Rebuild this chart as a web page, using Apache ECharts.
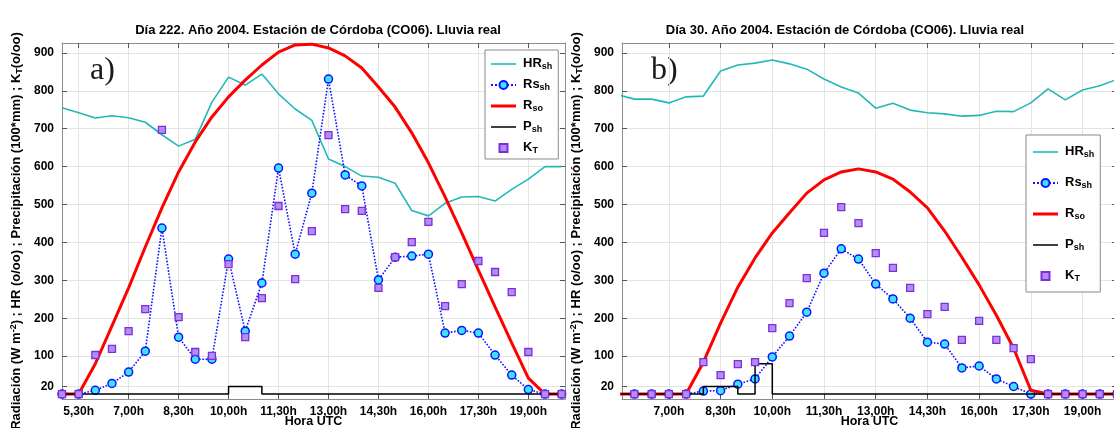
<!DOCTYPE html>
<html>
<head>
<meta charset="utf-8">
<script src="https://cdn.jsdelivr.net/npm/echarts@6/dist/echarts.min.js"></script>
<style>
  html, body { margin: 0; padding: 0; background: #fff; }
  #chart { width: 1114px; height: 428px; }
</style>
</head>
<body>
<div id="chart"></div>
<script>
// horas UTC de los registros semihorarios
const horasA = [5, 5.5, 6, 6.5, 7, 7.5, 8, 8.5, 9, 9.5, 10, 10.5, 11, 11.5, 12, 12.5,
  13, 13.5, 14, 14.5, 15, 15.5, 16, 16.5, 17, 17.5, 18, 18.5, 19, 19.5, 20];
const horasB = [5.5, 6, 6.5, 7, 7.5, 8, 8.5, 9, 9.5, 10, 10.5, 11, 11.5, 12, 12.5,
  13, 13.5, 14, 14.5, 15, 15.5, 16, 16.5, 17, 17.5, 18, 18.5, 19, 19.5, 20];
const tickHoras = [5.5, 7, 8.5, 10, 11.5, 13, 14.5, 16, 17.5, 19];
const tickValores = [20, 100, 200, 300, 400, 500, 600, 700, 800, 900];

// Día 222
const hrA = [755, 742, 728, 734, 729, 717, 684, 654, 672, 770, 836, 815, 844, 792, 752, 722,
  620, 600, 575, 572, 556, 484, 470, 503, 520, 521, 509, 540, 567, 600, 600];
const rsA = [0, 0, 10, 28, 58, 113, 438, 150, 92, 92, 356, 166, 293, 596, 369, 530,
  831, 578, 549, 301, 361, 364, 369, 161, 168, 161, 103, 50, 12, 0, 0];
const rsoA = [0, 0, 80, 180, 280, 388, 491, 586, 665, 731, 784, 828, 868, 902, 921, 923,
  913, 892, 860, 810, 757, 689, 610, 520, 425, 327, 230, 135, 42, 0, 0];
const pA = [0, 0, 0, 0, 0, 0, 0, 0, 0, 0, 20, 20, 0, 0, 0, 0,
  0, 0, 0, 0, 0, 0, 0, 0, 0, 0, 0, 0, 0, 0, 0];
const ktA = [0, 0, 103, 119, 166, 224, 697, 203, 111, 101, 343, 150, 253, 496, 303, 430,
  683, 488, 483, 280, 361, 401, 454, 232, 290, 351, 322, 269, 111, 0, 0];

// Día 30
const hrB = [790, 778, 778, 768, 784, 786, 852, 868, 873, 881, 871, 857, 831, 810, 794,
  754, 767, 749, 742, 739, 733, 735, 746, 745, 768, 805, 776, 802, 813, 830];
const rsB = [0, 0, 0, 0, 0, 8, 9, 26, 40, 98, 153, 216, 319, 383, 356,
  290, 251, 200, 137, 132, 69, 74, 40, 20, 0, 0, 0, 0, 0, 0];
const rsoB = [0, 0, 0, 0, 0, 84, 187, 282, 359, 425, 478, 530, 565, 586, 594,
  586, 567, 533, 491, 430, 361, 288, 208, 121, 10, 0, 0, 0, 0, 0];
const pB = [0, 0, 0, 0, 0, 20, 20, 0, 80, 0, 0, 0, 0, 0, 0,
  0, 0, 0, 0, 0, 0, 0, 0, 0, 0, 0, 0, 0, 0, 0];
const ktB = [0, 0, 0, 0, 0, 84, 50, 79, 84, 174, 240, 306, 425, 493, 451,
  372, 333, 280, 211, 230, 143, 193, 143, 121, 92, 0, 0, 0, 0, 0];

const FONT = '"Liberation Sans", Arial, sans-serif';
const etiquetas = {
  HR_sh: '{m|HR}{s|sh}',
  Rs_sh: '{m|Rs}{s|sh}',
  R_so: '{m|R}{s|so}',
  P_sh: '{m|P}{s|sh}',
  K_T: '{m|K}{s|T}'
};
// las series sin marcador llevan en la leyenda solo un trazo
const itemsLeyenda = [
  { name: 'HR_sh', icon: 'path://M0,0H25V1.6H0Z' },
  { name: 'Rs_sh' },
  { name: 'R_so', icon: 'path://M0,0H25V3H0Z' },
  { name: 'P_sh', icon: 'path://M0,0H25V1.5H0Z' },
  { name: 'K_T' }
];
const richLeyenda = {
  m: { fontSize: 13, fontWeight: 'bold', fontFamily: FONT, color: '#000', lineHeight: 14, verticalAlign: 'top' },
  s: { fontSize: 9, fontWeight: 'bold', fontFamily: FONT, color: '#000', lineHeight: 10, padding: [7, 0, 0, 0], verticalAlign: 'bottom' }
};
const nombreY = '{n|Radiación (W m}{p|-2}{n|) ; HR (o/oo) ; Precipitación (100*mm) ; K}{b|T}{n|(o/oo)}';
const richY = {
  n: { fontSize: 13, fontWeight: 'bold', fontFamily: FONT, color: '#000', lineHeight: 15, verticalAlign: 'middle' },
  p: { fontSize: 9, fontWeight: 'bold', fontFamily: FONT, color: '#000', lineHeight: 9, verticalAlign: 'top' },
  b: { fontSize: 9, fontWeight: 'bold', fontFamily: FONT, color: '#000', lineHeight: 9, padding: [7, 0, 0, 0], verticalAlign: 'bottom' }
};

const fmtHora = v => {
  const h = Math.floor(v);
  const m = Math.round((v - h) * 60);
  return h + ',' + (m < 10 ? '0' + m : m) + 'h';
};
const pares = (hs, vs) => hs.map((h, i) => [h, vs[i]]);

function ejeX(grid, min, max, abajo) {
  return {
    type: 'value', gridIndex: grid, min: min, max: max,
    position: abajo ? 'bottom' : 'top',
    axisLine: { show: true, onZero: false, lineStyle: { color: '#8c8c8c', width: 1 } },
    axisTick: { show: true, inside: true, length: 5, customValues: tickHoras, lineStyle: { color: '#555' } },
    axisLabel: abajo ? {
      customValues: tickHoras, formatter: fmtHora, margin: 7,
      color: '#000', fontSize: 12, fontWeight: 'bold', fontFamily: FONT
    } : { show: false },
    splitLine: { show: abajo, lineStyle: { color: '#e4e4e4', width: 1 } },
    name: abajo ? 'Hora UTC' : '', nameLocation: 'middle', nameGap: 16, nameMoveOverlap: false,
    nameTextStyle: { color: '#000', fontSize: 12.5, fontWeight: 'bold', fontFamily: FONT, verticalAlign: 'top' }
  };
}
function ejeY(grid, izq) {
  return {
    type: 'value', gridIndex: grid, min: -13, max: 926,
    position: izq ? 'left' : 'right',
    axisLine: { show: true, onZero: false, lineStyle: { color: '#8c8c8c', width: 1 } },
    axisTick: { show: true, inside: true, length: 5, customValues: tickValores, lineStyle: { color: '#555' } },
    axisLabel: izq ? {
      customValues: tickValores, margin: 8,
      color: '#000', fontSize: 12, fontWeight: 'bold', fontFamily: FONT
    } : { show: false },
    splitLine: { show: izq, lineStyle: { color: '#e4e4e4', width: 1 } },
    name: izq ? nombreY : '', nameLocation: 'middle', nameGap: 38, nameMoveOverlap: false,
    nameTextStyle: { rich: richY, padding: [0, 20, 0, 0] }
  };
}

function panel(ix, horas, hr, rs, rso, p, kt) {
  const base = { type: 'line', xAxisIndex: ix, yAxisIndex: ix, clip: true, animation: false };
  return [
    Object.assign({}, base, {
      name: 'HR_sh', data: pares(horas, hr), symbol: 'none', z: 2,
      lineStyle: { color: '#22b8b8', width: 1.6 }, itemStyle: { color: '#22b8b8' }
    }),
    Object.assign({}, base, {
      name: 'Rs_sh', data: pares(horas, rs), symbol: 'circle', symbolSize: 8, showAllSymbol: true, z: 3,
      lineStyle: { color: '#0a14ff', width: 1.6, type: 'dotted' },
      itemStyle: { color: '#3fe3ff', borderColor: '#0a14ff', borderWidth: 1.5 }
    }),
    Object.assign({}, base, {
      name: 'R_so', data: pares(horas, rso), symbol: 'none', z: 4,
      lineStyle: { color: '#ff0000', width: 3 }, itemStyle: { color: '#ff0000' }
    }),
    Object.assign({}, base, {
      name: 'P_sh', data: pares(horas, p), symbol: 'none', step: 'end', z: 5,
      lineStyle: { color: '#000', width: 1.5 }, itemStyle: { color: '#000' }
    }),
    Object.assign({}, base, {
      name: 'K_T', data: pares(horas, kt), symbol: 'rect', symbolSize: 7, showAllSymbol: true, z: 6,
      lineStyle: { width: 0, opacity: 0 },
      itemStyle: { color: '#b48cf6', borderColor: '#7a2fd8', borderWidth: 1.3 }
    })
  ];
}

function leyenda(left, top, gap, pad) {
  return {
    orient: 'vertical', left: left, top: top, data: itemsLeyenda,
    itemWidth: 25, itemHeight: 10, itemGap: gap, padding: pad,
    backgroundColor: '#fff', borderColor: '#8a8a8a', borderWidth: 1, borderRadius: 0,
    selectedMode: false,
    formatter: n => etiquetas[n],
    textStyle: { rich: richLeyenda, padding: [0, 0, 0, 2] }
  };
}

const chart = echarts.init(document.getElementById('chart'));
chart.setOption({
  backgroundColor: '#fff',
  animation: false,
  title: [
    { text: 'Día 222. Año 2004. Estación de Córdoba (CO06). Lluvia real', left: 313, top: 19, textAlign: 'center',
      textStyle: { fontSize: 13, fontWeight: 'bold', fontFamily: FONT, color: '#000' } },
    { text: 'Día 30. Año 2004. Estación de Córdoba (CO06). Lluvia real', left: 840, top: 19, textAlign: 'center',
      textStyle: { fontSize: 13, fontWeight: 'bold', fontFamily: FONT, color: '#000' } }
  ],
  grid: [
    { left: 62, top: 43, width: 503, height: 356, containLabel: false, outerBoundsMode: 'none' },
    { left: 622, top: 43, width: 495, height: 356, containLabel: false, outerBoundsMode: 'none' }
  ],
  xAxis: [
    ejeX(0, 5, 20.1, true), ejeX(0, 5, 20.1, false),
    ejeX(1, 5.64, 20, true), ejeX(1, 5.64, 20, false)
  ],
  yAxis: [
    ejeY(0, true), ejeY(0, false),
    ejeY(1, true), ejeY(1, false)
  ],
  legend: [
    leyenda(485, 50, 5, [5, 6, 4, 5]),
    leyenda(1026, 135, 15, [8, 6, 9, 6])
  ],
  graphic: [
    { type: 'text', left: 90, top: 55, style: { text: 'a)', font: '32px "Liberation Serif", serif', fill: '#1a1a1a' } },
    { type: 'text', left: 651, top: 55, style: { text: 'b)', font: '32px "Liberation Serif", serif', fill: '#1a1a1a' } }
  ],
  series: [].concat(
    panel(0, horasA, hrA, rsA, rsoA, pA, ktA),
    panel(2, horasB, hrB, rsB, rsoB, pB, ktB)
  )
});
window.onresize = function () { chart.resize(); };
</script>
</body>
</html>
